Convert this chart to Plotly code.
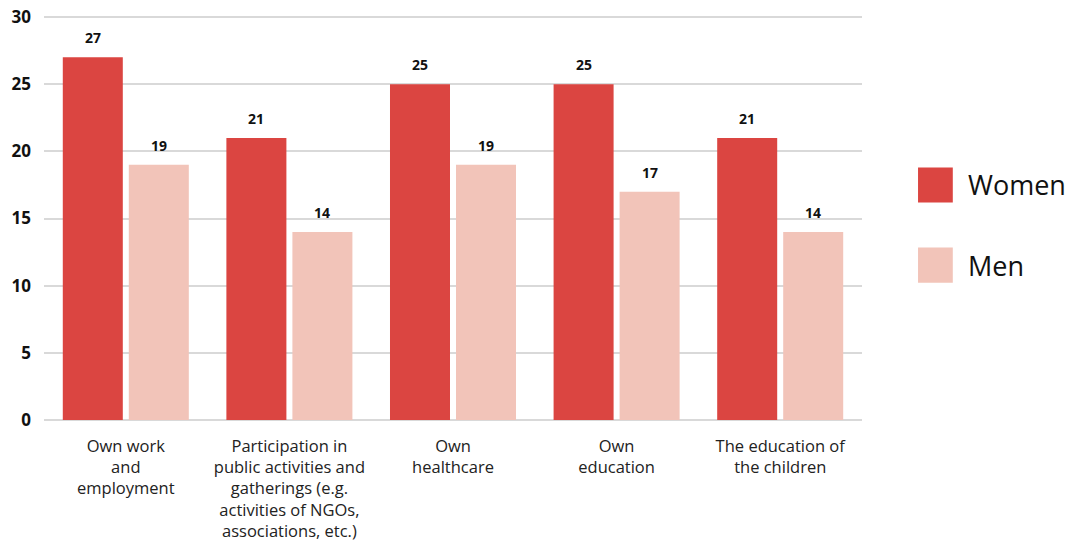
import plotly.graph_objects as go

categories = [
    "Own work<br>and<br>employment",
    "Participation in<br>public activities and<br>gatherings (e.g.<br>activities of NGOs,<br>associations, etc.)",
    "Own<br>healthcare",
    "Own<br>education",
    "The education of<br>the children",
]
women = [27, 21, 25, 25, 21]
men = [19, 14, 19, 17, 14]
series_names = ["Women", "Men"]
colors = ["#db4541", "#f2c4b9"]
y_ticks = [0, 5, 10, 15, 20, 25, 30]

FONT = "Open Sans"

fig = go.Figure()
for name, vals, col in zip(series_names, [women, men], colors):
    fig.add_trace(go.Bar(x=categories, y=vals, name=name, marker=dict(color=col, line=dict(width=0)),
                         showlegend=False, hoverinfo="skip"))

# value labels
for vals, shift in [(women, -33), (men, 33)]:
    for c, v in zip(categories, vals):
        fig.add_annotation(x=c, y=v, text=f"<b>{v}</b>", showarrow=False, xshift=shift,
                           yanchor="bottom", yshift=8, font=dict(family=FONT, size=14, color="#111"))

# manual legend
legend_rows = [(0.6253, 0.5385), (0.4268, 0.34)]
for (y1, y0), name, col in zip(legend_rows, series_names, colors):
    fig.add_shape(type="rect", xref="paper", yref="paper", x0=1.0685, x1=1.111, y0=y0, y1=y1,
                  fillcolor=col, line=dict(width=0))
    fig.add_annotation(xref="paper", yref="paper", x=1.127, y=(y0 + y1) / 2, text=name,
                       showarrow=False, xanchor="left", yanchor="middle",
                       font=dict(family=FONT, size=27, color="#111"))

fig.update_layout(
    width=1072, height=546,
    margin=dict(l=44, r=210, t=16, b=126),
    plot_bgcolor="white", paper_bgcolor="white",
    barmode="group", bargap=0.193, bargroupgap=0.0909,
    font=dict(family=FONT),
)
fig.update_yaxes(range=[0, 30.075], tickvals=y_ticks, showgrid=True, gridcolor="#d9d9d9", gridwidth=2,
                 zeroline=True, zerolinecolor="#d9d9d9", zerolinewidth=2, showline=False,
                 ticks="", ticklabelstandoff=12, automargin=False,
                 tickfont=dict(family=FONT, size=17, color="#111", weight="bold"))
fig.update_xaxes(showline=False, ticks="", ticklabelstandoff=14, automargin=False,
                 tickfont=dict(family=FONT, size=16.5, color="#222"))

fig.write_html("out.html", config={"displayModeBar": False},
               post_script="document.body.style.margin='0';document.body.style.overflow='hidden';")
